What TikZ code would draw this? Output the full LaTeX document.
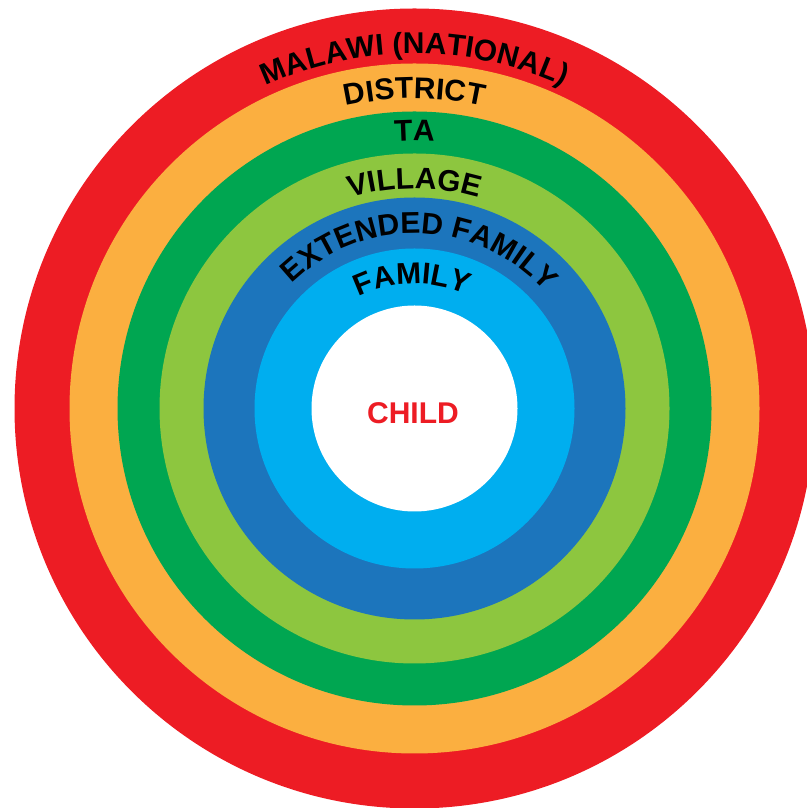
\documentclass[tikz,border=0pt]{standalone}
\usepackage{fontspec}
\setmainfont{Liberation Sans}
\usetikzlibrary{decorations.text}
\definecolor{nationalred}{HTML}{ED1C24}
\definecolor{districtorange}{HTML}{FBAF40}
\definecolor{tagreen}{HTML}{00A651}
\definecolor{villagegreen}{HTML}{8DC63F}
\definecolor{extendedblue}{HTML}{1C75BC}
\definecolor{familyblue}{HTML}{00AEEF}
\newcommand{\ringfont}{\fontsize{30}{31}\selectfont\bfseries}
\tikzset{
	ringlabel/.style={decorate,decoration={text along path,text align=center,text={|\ringfont|#1}}}
}
\begin{document}
\begin{tikzpicture}[x=1pt,y=1pt]
		\useasboundingbox (0,0) rectangle (806,808);
		\coordinate (c) at (414.5,399.5);
		
		\fill[nationalred] (c) circle (400pt);
		\fill[districtorange] (c) circle (345pt);
		\fill[tagreen] (c) circle (297pt);
		\fill[villagegreen] (c) circle (255pt);
		\fill[extendedblue] (c) circle (211pt);
		\fill[familyblue] (c) circle (160pt);
		\fill[white] (c) circle (103pt);
		
		\path[ringlabel={MALAWI (NATIONAL)}] ([shift={(180:355pt)}]c) arc[start angle=180,end angle=0,radius=355pt];
		\path[ringlabel={DISTRICT}] ([shift={(180:310pt)}]c) arc[start angle=180,end angle=0,radius=310pt];
		\path[ringlabel={TA}] ([shift={(180:268pt)}]c) arc[start angle=180,end angle=0,radius=268pt];
		\path[ringlabel={VILLAGE}] ([shift={(180:220pt)}]c) arc[start angle=180,end angle=0,radius=220pt];
		\path[ringlabel={EXTENDED FAMILY}] ([shift={(178:175pt)}]c) arc[start angle=178,end angle=-2,radius=175pt];
		\path[ringlabel={FAMILY}] ([shift={(181:125pt)}]c) arc[start angle=181,end angle=1,radius=125pt];
		
		\node[text=nationalred,font=\fontsize{30}{31}\selectfont\bfseries] (child) at (413,395) {CHILD};
\end{tikzpicture}
\end{document}
